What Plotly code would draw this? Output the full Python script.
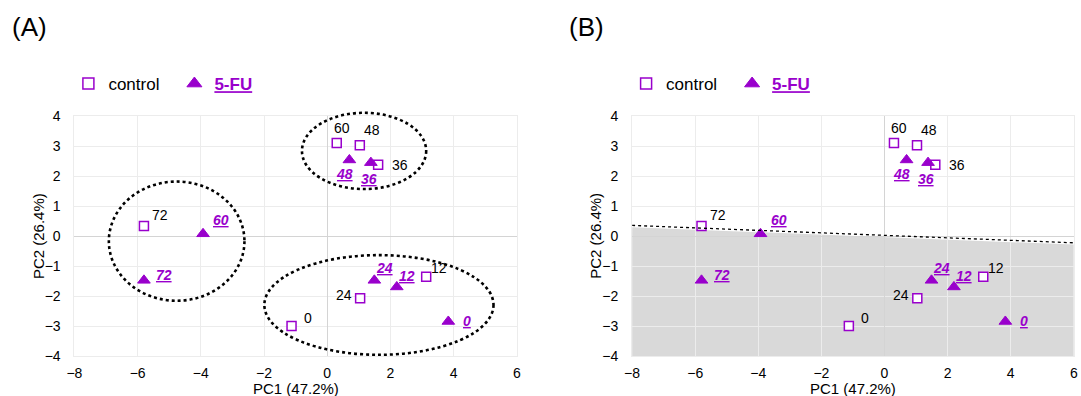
import plotly.graph_objects as go

# PCA scores (PC1, PC2) per sampling time (h)
control_times = [0, 12, 24, 36, 48, 60, 72]
control_pc1 = [-1.13, 3.13, 1.04, 1.61, 1.03, 0.30, -5.80]
control_pc2 = [-2.99, -1.35, -2.07, 2.38, 3.03, 3.10, 0.34]

fu_times = [0, 12, 24, 36, 48, 60, 72]
fu_pc1 = [3.83, 2.20, 1.49, 1.38, 0.70, -3.93, -5.80]
fu_pc2 = [-2.84, -1.69, -1.47, 2.45, 2.54, 0.08, -1.47]

# cluster outlines for panel A: (pc1 min, pc1 max, pc2 min, pc2 max)
clusters = [
    (-0.80, 3.13, 1.57, 4.11),
    (-6.91, -2.62, -2.15, 1.82),
    (-1.99, 5.26, -3.95, -0.63),
]

# separating boundary for panel B: pc2 at pc1 = -8 and pc1 = 6
boundary_pc1 = [-8, 6]
boundary_pc2 = [0.36, -0.22]

x_title = "PC1 (47.2%)"
y_title = "PC2 (26.4%)"
XR = (-8, 6)
YR = (-4, 4)

PURPLE = "#9900CC"
FONT = "Liberation Sans"
W, H = 1081, 396

# label offsets from each marker, in pixels (right, down)
control_label_off = [(16, -8), (13, -9), (-16, -3), (22, 0),
                     (12, -15), (5, -15), (16, -11)]
fu_label_off = [(19, 0), (10, -11), (10, -12), (-2, 16),
                (-5, 14), (18, -14), (20, -5)]

# plot areas in pixels: (left, right), shared (top, bottom)
panels = [(74.4, 516.9), (632.1, 1073.8)]
top_px, bot_px = 116.1, 356.3

fig = go.Figure()
annotations = []

legend_names = ["legend", "legend2", "legend3", "legend4"]

for i, (lpx, rpx) in enumerate(panels):
    xa = "x" if i == 0 else "x2"
    ya = "y" if i == 0 else "y2"
    leg_c = legend_names[2 * i]
    leg_f = legend_names[2 * i + 1]

    fig.add_trace(go.Scatter(
        x=control_pc1, y=control_pc2, xaxis=xa, yaxis=ya, mode="markers",
        marker=dict(symbol="square", size=9, color="white",
                    line=dict(color=PURPLE, width=1.5)),
        showlegend=False, cliponaxis=False, hoverinfo="skip"))
    fig.add_trace(go.Scatter(
        x=fu_pc1, y=fu_pc2, xaxis=xa, yaxis=ya, mode="markers",
        marker=dict(symbol="triangle-up", size=11, color=PURPLE,
                    line=dict(color=PURPLE, width=1)),
        showlegend=False, cliponaxis=False, hoverinfo="skip"))

    # time labels next to the markers
    for t, px_, py_, (dx, dy) in zip(control_times, control_pc1, control_pc2,
                                     control_label_off):
        annotations.append(dict(
            text=str(t), x=px_, y=py_, xref=xa, yref=ya, showarrow=False,
            xanchor="center", yanchor="middle", xshift=dx, yshift=-dy,
            font=dict(family=FONT, size=14, color="black")))
    for t, px_, py_, (dx, dy) in zip(fu_times, fu_pc1, fu_pc2, fu_label_off):
        annotations.append(dict(
            text=f"<b><i><u>{t}</u></i></b>", x=px_, y=py_, xref=xa, yref=ya,
            showarrow=False, xanchor="center", yanchor="middle",
            xshift=dx, yshift=-dy,
            font=dict(family=FONT, size=14, color=PURPLE)))

    # legend entries
    fig.add_trace(go.Scatter(
        x=[None], y=[None], xaxis=xa, yaxis=ya, mode="markers", name="control",
        marker=dict(symbol="square", size=11, color="white",
                    line=dict(color=PURPLE, width=1.5)),
        legend=leg_c))
    fig.add_trace(go.Scatter(
        x=[None], y=[None], xaxis=xa, yaxis=ya, mode="markers",
        name="<b><u>5-FU</u></b>",
        marker=dict(symbol="triangle-up", size=13, color=PURPLE,
                    line=dict(color=PURPLE, width=1)),
        legend=leg_f))

    leg_y = 1 - 84 / H
    fig.update_layout({
        leg_c: dict(x=(lpx - 6) / W, y=leg_y, xanchor="left", yanchor="middle",
                    font=dict(family=FONT, size=17, color="black"),
                    bgcolor="rgba(0,0,0,0)", itemclick=False),
        leg_f: dict(x=(lpx + 100) / W, y=leg_y, xanchor="left", yanchor="middle",
                    font=dict(family=FONT, size=17, color=PURPLE),
                    bgcolor="rgba(0,0,0,0)", itemclick=False),
    })

axis_common = dict(
    showgrid=True, gridcolor="#ececec", gridwidth=1,
    zeroline=True, zerolinecolor="#d4d4d4", zerolinewidth=1,
    showline=True, linecolor="#ececec", linewidth=1, mirror=True,
    ticks="", tickfont=dict(family=FONT, size=14, color="black"),
    automargin=False, fixedrange=True,
)

y_dom = [1 - bot_px / H, 1 - top_px / H]
for i, (lpx, rpx) in enumerate(panels):
    sfx = "" if i == 0 else "2"
    fig.update_layout({
        "xaxis" + sfx: dict(axis_common, range=list(XR), dtick=2, tick0=0,
                            domain=[lpx / W, rpx / W], anchor="y" + sfx,
                            ticklabelstandoff=4),
        "yaxis" + sfx: dict(axis_common, range=list(YR), dtick=1, tick0=0,
                            domain=y_dom, anchor="x" + sfx,
                            ticklabelstandoff=10),
    })

shapes = []
# dotted cluster outlines (domain-referenced so the top one can overrun the frame)
for x0, x1, y0, y1 in clusters:
    shapes.append(dict(
        type="circle", xref="x domain", yref="y domain",
        x0=(x0 - XR[0]) / (XR[1] - XR[0]), x1=(x1 - XR[0]) / (XR[1] - XR[0]),
        y0=(y0 - YR[0]) / (YR[1] - YR[0]), y1=(y1 - YR[0]) / (YR[1] - YR[0]),
        line=dict(color="black", width=2.6, dash="dot"), layer="above"))

# grey region under the boundary in panel B
bx0, bx1 = boundary_pc1
by0, by1 = boundary_pc2
shapes.append(dict(
    type="path", xref="x2", yref="y2",
    path=f"M {bx0},{by0 - 0.06} L {bx1},{by1 - 0.06} L {bx1},{YR[0]} L {bx0},{YR[0]} Z",
    fillcolor="#d9d9d9", line=dict(width=0), layer="below"))
shapes.append(dict(
    type="line", xref="x2", yref="y2", x0=bx0, y0=by0, x1=bx1, y1=by1,
    line=dict(color="black", width=1.3, dash="dot"), layer="above"))

for i, (lpx, rpx) in enumerate(panels):
    cx = (lpx + rpx) / 2
    annotations.append(dict(
        text=x_title, x=cx / W, y=1 - 388 / H, xref="paper", yref="paper",
        xanchor="center", yanchor="middle", showarrow=False,
        font=dict(family=FONT, size=15, color="black")))
    annotations.append(dict(
        text=y_title, x=(lpx - 36.5) / W, y=1 - (top_px + bot_px) / 2 / H,
        xref="paper", yref="paper", xanchor="center", yanchor="middle",
        textangle=-90, showarrow=False,
        font=dict(family=FONT, size=15, color="black")))

for label, px in (("(A)", 29), ("(B)", 586)):
    annotations.append(dict(
        text=label, x=px / W, y=1 - 27.5 / H, xref="paper", yref="paper",
        xanchor="center", yanchor="middle", showarrow=False,
        font=dict(family=FONT, size=26, color="black")))

fig.update_layout(
    width=W, height=H,
    margin=dict(l=0, r=0, t=0, b=0),
    paper_bgcolor="white", plot_bgcolor="white",
    shapes=shapes, annotations=annotations,
    hovermode=False,
)

fig.write_html("out.html")
